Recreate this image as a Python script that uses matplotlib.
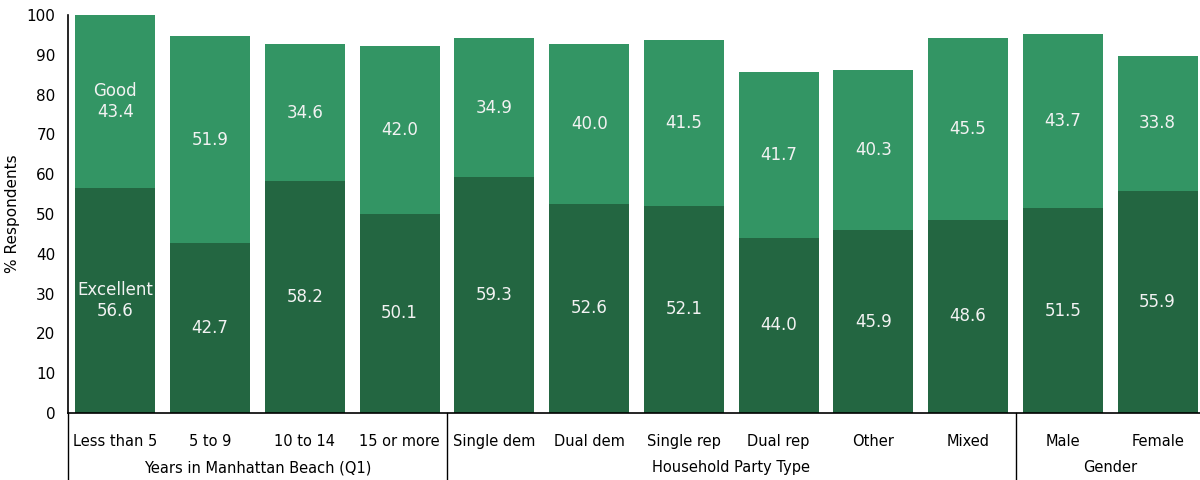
import matplotlib.pyplot as plt
import numpy as np

categories = ["Less than 5", "5 to 9", "10 to 14", "15 or more",
              "Single dem", "Dual dem", "Single rep", "Dual rep", "Other", "Mixed",
              "Male", "Female"]
excellent = [56.6, 42.7, 58.2, 50.1, 59.3, 52.6, 52.1, 44.0, 45.9, 48.6, 51.5, 55.9]
good = [43.4, 51.9, 34.6, 42.0, 34.9, 40.0, 41.5, 41.7, 40.3, 45.5, 43.7, 33.8]
groups = ["Years in Manhattan Beach (Q1)", "Household Party Type", "Gender"]
group_sizes = [4, 6, 2]

DARK = "#236641"
LIGHT = "#339564"
TEXT = "#f2f2f2"

plt.rcParams["font.family"] = "DejaVu Sans"
fig = plt.figure(figsize=(12, 4.8), dpi=100)
W, H = 1200, 480
ax = fig.add_axes([68 / W, 1 - 413 / H, (1205 - 68) / W, (413 - 15) / H])

x = np.arange(len(categories))
ax.bar(x, excellent, width=0.845, color=DARK)
ax.bar(x, good, width=0.845, bottom=excellent, color=LIGHT)

for i in x:
    e, g = excellent[i], good[i]
    lab_e = f"{e:.1f}"
    lab_g = f"{g:.1f}"
    if i == 0:
        lab_e = "Excellent\n" + lab_e
        lab_g = "Good\n" + lab_g
    ax.text(i, e / 2, lab_e, ha="center", va="center", color=TEXT,
            fontsize=12, linespacing=1.25)
    ax.text(i, e + g / 2, lab_g, ha="center", va="center", color=TEXT,
            fontsize=12, linespacing=1.25)

ax.set_xlim(-0.5, len(categories) - 0.5)
ax.set_ylim(0, 100)
ax.set_yticks(range(0, 101, 10))
ax.tick_params(axis="y", length=0, labelsize=11, pad=9)
ax.set_xticks(x)
ax.set_xticklabels(categories)
ax.tick_params(axis="x", length=0, labelsize=10.5, pad=15)
ax.set_ylabel("% Respondents", fontsize=11, labelpad=5)

for s in ["top", "right"]:
    ax.spines[s].set_visible(False)
ax.spines["left"].set_linewidth(1.2)
ax.spines["bottom"].set_linewidth(1.2)

# group labels and separators below the axis
drop = -(480 - 413) / (413 - 15)
start = 0
bounds = [-0.5]
for name, n in zip(groups, group_sizes):
    mid = start + (n - 1) / 2
    ax.text(mid, -0.138, name, transform=ax.get_xaxis_transform(),
            ha="center", va="center", fontsize=10.5)
    start += n
    bounds.append(start - 0.5)
for b in bounds[:-1]:
    ax.plot([b, b], [0, drop], transform=ax.get_xaxis_transform(),
            color="black", lw=1, clip_on=False)

fig.savefig("out.png", dpi=100)
